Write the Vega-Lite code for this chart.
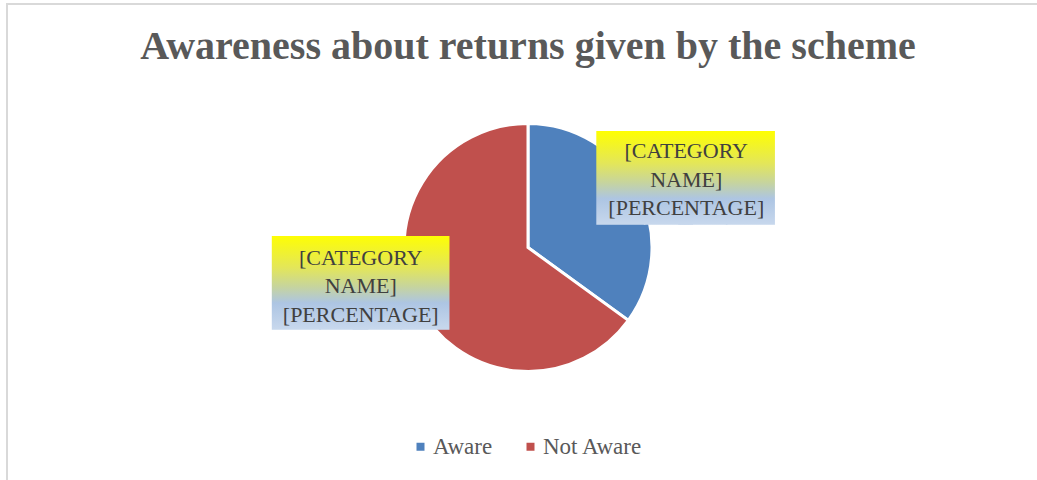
{
  "$schema": "https://vega.github.io/schema/vega-lite/v6.json",
  "width": 1042,
  "height": 487,
  "autosize": {"type": "none"},
  "padding": {"left": 7, "top": 4, "right": -12, "bottom": -11},
  "background": "white",
  "view": {"stroke": "#d9d9d9", "strokeWidth": 2},
  "title": {
    "text": "Awareness about returns given by the scheme",
    "font": "Liberation Serif",
    "fontSize": 40,
    "fontWeight": "bold",
    "color": "#595959",
    "anchor": "middle",
    "baseline": "alphabetic",
    "offset": -55,
    "dy": 40
  },
  "data": {
    "values": [
      {"category": "Aware", "value": 35},
      {"category": "Not Aware", "value": 65}
    ]
  },
  "layer": [
    {
      "mark": {"type": "arc", "outerRadius": 124, "stroke": "white", "strokeWidth": 3},
      "encoding": {
        "theta": {"field": "value", "type": "quantitative", "stack": true},
        "color": {
          "field": "category",
          "type": "nominal",
          "scale": {"domain": ["Aware", "Not Aware"], "range": ["#4F81BD", "#C0504D"]},
          "legend": {
            "title": null,
            "orient": "none",
            "legendX": 402,
            "legendY": 431,
            "direction": "horizontal",
            "symbolType": "square",
            "symbolSize": 64,
            "symbolStrokeWidth": 0,
            "labelFont": "Liberation Serif",
            "labelFontSize": 23,
            "labelColor": "#595959",
            "labelOffset": 1,
            "columnPadding": 26
          }
        }
      }
    },
    {
      "mark": {"type": "text", "font": "DejaVu Sans Mono", "fontSize": 79, "radius": 172, "align": "left", "baseline": "middle", "dx": -84, "dy": 12,
        "fill": {"gradient": "linear", "x1": 0, "y1": 0, "x2": 0, "y2": 1, "stops": [{"offset": 0, "color": "#ffff00"}, {"offset": 0.35, "color": "#e3e65a"}, {"offset": 0.55, "color": "#c6d49e"}, {"offset": 0.72, "color": "#adc5e3"}, {"offset": 1, "color": "#c8d8ed"}]}},
      "encoding": {
        "theta": {"field": "value", "type": "quantitative", "stack": true},
        "detail": {"field": "category", "type": "nominal"},
        "text": {"condition": {"test": "datum.category === 'Aware'", "value": "██"}, "value": ""}
      }
    },
    {
      "mark": {"type": "text", "font": "DejaVu Sans Mono", "fontSize": 79, "radius": 172, "align": "right", "baseline": "middle", "dx": 93, "dy": 12,
        "fill": {"gradient": "linear", "x1": 0, "y1": 0, "x2": 0, "y2": 1, "stops": [{"offset": 0, "color": "#ffff00"}, {"offset": 0.35, "color": "#e3e65a"}, {"offset": 0.55, "color": "#c6d49e"}, {"offset": 0.72, "color": "#adc5e3"}, {"offset": 1, "color": "#c8d8ed"}]}},
      "encoding": {
        "theta": {"field": "value", "type": "quantitative", "stack": true},
        "detail": {"field": "category", "type": "nominal"},
        "text": {"condition": {"test": "datum.category === 'Aware'", "value": "██"}, "value": ""}
      }
    },
    {
      "mark": {"type": "text", "font": "DejaVu Sans Mono", "fontSize": 79, "radius": 172, "align": "left", "baseline": "middle", "dx": -102, "dy": -40,
        "fill": {"gradient": "linear", "x1": 0, "y1": 0, "x2": 0, "y2": 1, "stops": [{"offset": 0, "color": "#ffff00"}, {"offset": 0.35, "color": "#e3e65a"}, {"offset": 0.55, "color": "#c6d49e"}, {"offset": 0.72, "color": "#adc5e3"}, {"offset": 1, "color": "#c8d8ed"}]}},
      "encoding": {
        "theta": {"field": "value", "type": "quantitative", "stack": true},
        "detail": {"field": "category", "type": "nominal"},
        "text": {"condition": {"test": "datum.category === 'Not Aware'", "value": "██"}, "value": ""}
      }
    },
    {
      "mark": {"type": "text", "font": "DejaVu Sans Mono", "fontSize": 79, "radius": 172, "align": "right", "baseline": "middle", "dx": 74, "dy": -40,
        "fill": {"gradient": "linear", "x1": 0, "y1": 0, "x2": 0, "y2": 1, "stops": [{"offset": 0, "color": "#ffff00"}, {"offset": 0.35, "color": "#e3e65a"}, {"offset": 0.55, "color": "#c6d49e"}, {"offset": 0.72, "color": "#adc5e3"}, {"offset": 1, "color": "#c8d8ed"}]}},
      "encoding": {
        "theta": {"field": "value", "type": "quantitative", "stack": true},
        "detail": {"field": "category", "type": "nominal"},
        "text": {"condition": {"test": "datum.category === 'Not Aware'", "value": "██"}, "value": ""}
      }
    },
    {
      "mark": {"type": "text", "font": "Liberation Serif", "fontSize": 22, "lineHeight": 28.5, "fill": "#404040", "radius": 172, "align": "center", "baseline": "middle", "dx": 5, "dy": -18},
      "encoding": {
        "theta": {"field": "value", "type": "quantitative", "stack": true},
        "detail": {"field": "category", "type": "nominal"},
        "text": {"condition": {"test": "datum.category === 'Aware'", "value": ["[CATEGORY", "NAME]", "[PERCENTAGE]"]}, "value": ""}
      }
    },
    {
      "mark": {"type": "text", "font": "Liberation Serif", "fontSize": 22, "lineHeight": 28.5, "fill": "#404040", "radius": 172, "align": "center", "baseline": "middle", "dx": -14, "dy": -68},
      "encoding": {
        "theta": {"field": "value", "type": "quantitative", "stack": true},
        "detail": {"field": "category", "type": "nominal"},
        "text": {"condition": {"test": "datum.category === 'Not Aware'", "value": ["[CATEGORY", "NAME]", "[PERCENTAGE]"]}, "value": ""}
      }
    }
  ]
}
